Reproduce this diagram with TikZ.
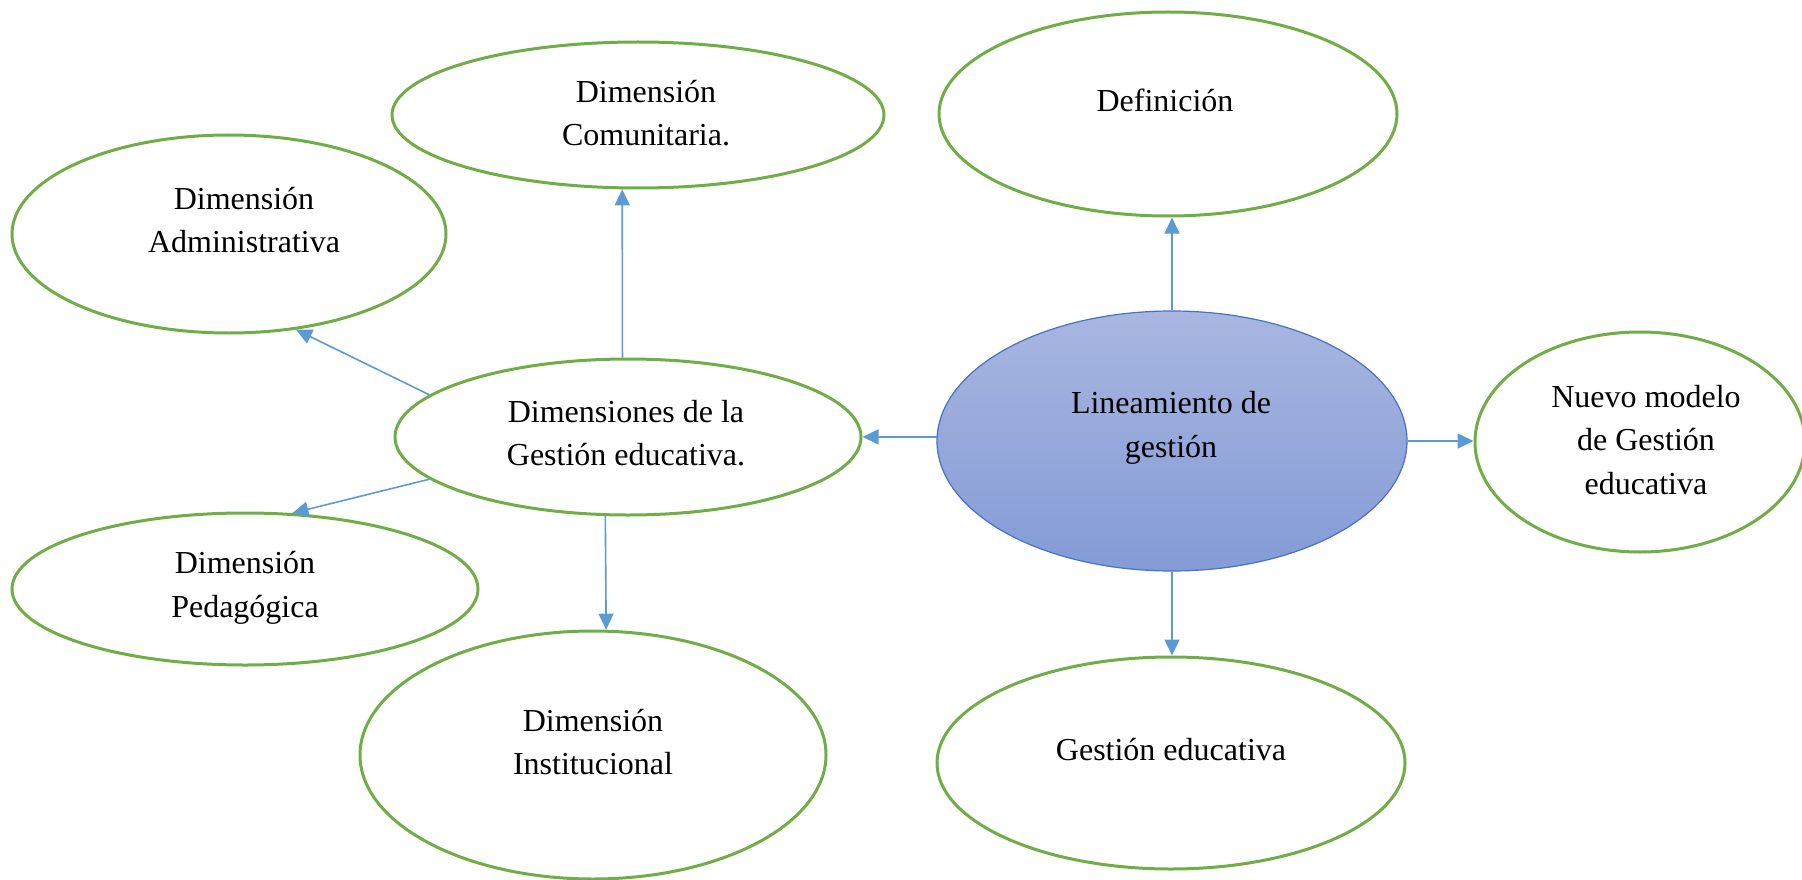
\documentclass[tikz,border=0pt]{standalone}
\usepackage{fontspec}
\setmainfont{Liberation Serif}
\usetikzlibrary{shapes.geometric,arrows.meta}
\definecolor{elgreen}{RGB}{112,173,71}
\definecolor{arrblue}{RGB}{91,155,213}
\definecolor{lintop}{RGB}{168,182,224}
\definecolor{linbot}{RGB}{132,155,214}
\definecolor{linedge}{RGB}{68,114,196}
\begin{document}
\begin{tikzpicture}[x=1pt,y=-1pt,
  ell/.style={ellipse, draw=elgreen, line width=3pt, inner sep=0pt, fill=white},
  lbl/.style={align=center, font=\fontsize{32}{43.5}\selectfont, text=black, inner sep=0pt},
  con/.style={draw=arrblue, line width=1.6pt, -{Triangle[length=16pt,width=15pt]}}
]
\useasboundingbox (0,0) rectangle (1802,880);

% ellipses
\node[ell, minimum width=492pt, minimum height=146pt] (com) at (638,115) {};
\node[ell, minimum width=458pt, minimum height=204pt] (def) at (1168,114) {};
\node[ell, minimum width=434pt, minimum height=198pt] (adm) at (229,234) {};
\node[ell, minimum width=466pt, minimum height=156pt] (dim) at (628,437) {};
\node[ellipse, draw=linedge, line width=1.2pt, inner sep=0pt, top color=lintop, bottom color=linbot,
      minimum width=470pt, minimum height=260pt] (lin) at (1172,441) {};
\node[ell, minimum width=330pt, minimum height=220pt] (nue) at (1640,442) {};
\node[ell, minimum width=466pt, minimum height=152pt] (ped) at (245,589) {};
\node[ell, minimum width=466pt, minimum height=248pt] (ins) at (593,755) {};
\node[ell, minimum width=468pt, minimum height=212pt] (ges) at (1171,763) {};

% labels
\node[lbl] (tcom) at (646,113) {Dimensión\\Comunitaria.};
\node[lbl] (tdef) at (1165,100) {Definición};
\node[lbl] (tadm) at (244,220) {Dimensión\\Administrativa};
\node[lbl] (tdim) at (626,433) {Dimensiones de la\\Gestión educativa.};
\node[lbl] (tlin) at (1171,428) {Lineamiento de\\gestión};
\node[lbl] (tnue) at (1646,440) {Nuevo modelo\\de Gestión\\educativa};
\node[lbl] (tped) at (245,588) {Dimensión\\Pedagógica};
\node[lbl] (tins) at (593,742) {Dimensión\\Institucional};
\node[lbl] (tges) at (1171,750) {Gestión educativa};

% connectors
\draw[con] (lin.north) -- (lin.north |- def.south);
\draw[con] (lin.179) -- (lin.179 -| dim.east);
\draw[con] (lin.east) -- (lin.east -| nue.west);
\draw[con] (lin.south) -- (lin.south |- ges.north);
\draw[con] (dim.94.4) -- (com.-102.4);
\draw[con] (dim.168.7) -- (adm.-55.5);
\draw[con] (dim.-168.2) -- (ped.58.3);
\draw[con] (dim.-106.8) -- (ins.84.7);
\end{tikzpicture}
\end{document}
